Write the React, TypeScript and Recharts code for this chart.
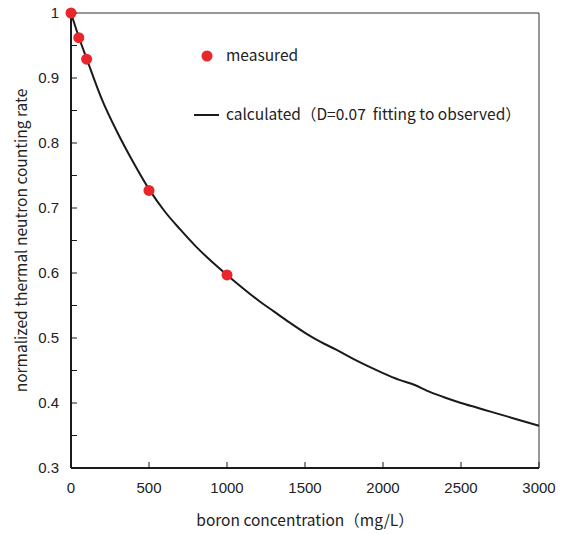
import React from 'react';
import { ComposedChart, Line, Scatter, XAxis, YAxis, ReferenceLine, Label } from 'recharts';

const measuredX = [0, 50, 100, 500, 1000];
const measuredY = [1.0, 0.962, 0.929, 0.727, 0.597];

const calcX = [0, 50, 100, 200, 300, 400, 500, 600, 700, 800, 900, 1000, 1100, 1200, 1300, 1400, 1500, 1600, 1700, 1800, 1900, 2000, 2100, 2200, 2300, 2400, 2500, 2600, 2700, 2800, 2900, 3000];
const calcY = [1.0, 0.963, 0.93, 0.866, 0.815, 0.77, 0.729, 0.695, 0.667, 0.641, 0.618, 0.597, 0.577, 0.558, 0.541, 0.524, 0.508, 0.494, 0.482, 0.469, 0.457, 0.446, 0.436, 0.428, 0.417, 0.408, 0.4, 0.393, 0.386, 0.379, 0.372, 0.365];

const xTicks = [0, 500, 1000, 1500, 2000, 2500, 3000];
const yTicks = [0.3, 0.35, 0.4, 0.45, 0.5, 0.55, 0.6, 0.65, 0.7, 0.75, 0.8, 0.85, 0.9, 0.95, 1.0];
const yLabels = ['0.3', '', '0.4', '', '0.5', '', '0.6', '', '0.7', '', '0.8', '', '0.9', '', '1'];

const legendLabels = ['measured', 'calculated（D=0.07  fitting to observed）'];

const measured = measuredX.map((x, i) => ({ x, y: measuredY[i] }));
const calculated = calcX.map((x, i) => ({ x, y: calcY[i] }));

const titleFont = '"Noto Sans CJK JP", "Noto Sans", sans-serif';
const tickFont = '"Liberation Sans", Arial, sans-serif';

export default function App() {
  return (
    <div style={{ position: 'absolute', left: 0, top: 0, width: 565, height: 534 }}>
      <ComposedChart width={565} height={534} margin={{ top: 13, right: 26, bottom: 36, left: 11 }}>
        <XAxis
          type="number"
          dataKey="x"
          domain={[0, 3000]}
          ticks={xTicks}
          stroke="#1a1a1a"
          strokeWidth={2}
          tickSize={-6}
          tickMargin={20}
          height={30}
          tick={{ fill: '#222', fontSize: 15, fontFamily: tickFont }}
          tickLine={{ stroke: '#1a1a1a', strokeWidth: 1 }}
        >
          <Label value="boron concentration（mg/L）" position="insideBottom" offset={-28} style={{ fontFamily: titleFont, fontSize: 15.5, fill: '#222' }} />
        </XAxis>
        <YAxis
          type="number"
          dataKey="y"
          domain={[0.3, 1]}
          ticks={yTicks}
          interval={0}
          tickFormatter={(v: number) => yLabels[yTicks.findIndex((t) => Math.abs(t - v) < 1e-6)] ?? ''}
          stroke="#1a1a1a"
          strokeWidth={2}
          tickSize={-6}
          tickMargin={18}
          width={60}
          tick={{ fill: '#222', fontSize: 15, fontFamily: tickFont }}
          tickLine={{ stroke: '#1a1a1a', strokeWidth: 1 }}
        >
          <Label value="normalized thermal neutron counting rate" angle={-90} position="insideLeft" offset={10} style={{ textAnchor: 'middle', fontFamily: titleFont, fontSize: 15.5, fill: '#222' }} />
        </YAxis>
        <ReferenceLine y={1} stroke="#333" strokeWidth={1} />
        <ReferenceLine x={3000} stroke="#333" strokeWidth={1} />
        <Line
          data={calculated}
          dataKey="y"
          type="monotone"
          stroke="#1a1a1a"
          strokeWidth={2}
          dot={false}
          activeDot={false}
          isAnimationActive={false}
          legendType="none"
        />
        <Scatter
          data={measured}
          dataKey="y"
          fill="#e8262b"
          shape={(p: any) => <circle cx={p.cx} cy={p.cy} r={5.5} fill="#e8262b" />}
          isAnimationActive={false}
        />
      </ComposedChart>
      <svg width={360} height={100} style={{ position: 'absolute', left: 180, top: 38, overflow: 'visible' }}>
        <circle cx={27} cy={18} r={5.5} fill="#e8262b" />
        <text x={46} y={23} fontFamily={titleFont} fontSize={15.5} fill="#222">{legendLabels[0]}</text>
        <line x1={14} x2={39} y1={77} y2={77} stroke="#1a1a1a" strokeWidth={2} />
        <text x={46} y={82} fontFamily={titleFont} fontSize={15.5} fill="#222" style={{ whiteSpace: 'pre' }}>{legendLabels[1]}</text>
      </svg>
    </div>
  );
}
